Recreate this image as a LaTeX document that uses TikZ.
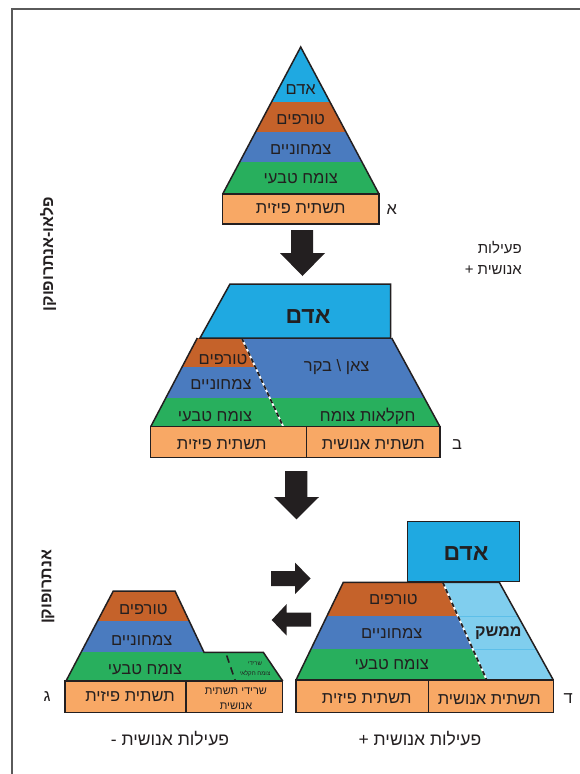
\documentclass[tikz,border=0pt]{standalone}
\usepackage{fontspec}
\newfontfamily\hebfont[Script=Hebrew]{Liberation Sans}
\TeXXeTstate=1
\newcommand\heb[1]{\beginR #1\endR}
\definecolor{cyanA}{HTML}{1FA9E1}
\definecolor{brownA}{HTML}{C5622A}
\definecolor{blueA}{HTML}{4A7BBF}
\definecolor{greenA}{HTML}{28AF5D}
\definecolor{orangeA}{HTML}{F8A865}
\definecolor{lightA}{HTML}{80CEEE}
\definecolor{lightLine}{HTML}{5DBFE9}
\definecolor{inkA}{HTML}{231F20}
\definecolor{frameA}{HTML}{5A5A5A}
\tikzset{
  outl/.style={draw=inkA,line width=1.5pt,line join=miter},
  base/.style={fill=orangeA,draw=inkA,line width=1.5pt},
  bigarrow/.style={fill=inkA},
  txt/.style={font=\hebfont\fontsize{16.5}{18}\selectfont,text=inkA,inner sep=0pt},
  boldtxt/.style={font=\hebfont\bfseries\fontsize{23}{25}\selectfont,text=inkA,inner sep=0pt},
  sidetxt/.style={font=\hebfont\bfseries\fontsize{16}{18}\selectfont,text=inkA,inner sep=0pt,rotate=90},
  divline/.style={draw=white,line width=1.8pt},
  divdash/.style={draw=inkA,line width=1.8pt,dash pattern=on 4.5pt off 3pt},
}
\begin{document}
\begin{tikzpicture}[x=1pt,y=-1pt]
\useasboundingbox (0,0) rectangle (580,774);
% frame
\draw[frameA,line width=1.3pt] (12,774) -- (12,9) -- (580,9);

% ===== A: top pyramid =====
\begin{scope}
\clip (300.7,47) -- (379,194) -- (222.7,194) -- cycle;
\fill[cyanA] (200,40) rectangle (400,101.7);
\fill[brownA] (200,101.7) rectangle (400,132);
\fill[blueA] (200,132) rectangle (400,162);
\fill[greenA] (200,162) rectangle (400,194);
\end{scope}
\draw[outl] (222.7,194) -- (300.7,47) -- (379,194);
\draw[base] (222.7,194) rectangle (379,224);
\node[txt] (a1) at (300.7,90) {\heb{אדם}};
\node[txt] (a2) at (300.7,120) {\heb{טורפים}};
\node[txt] (a3) at (300.7,149) {\heb{צמחוניים}};
\node[txt] (a4) at (300.7,179) {\heb{צומח טבעי}};
\node[txt] (a5) at (300.7,209) {\heb{תשתית פיזית}};
\node[txt] (la) at (391.7,210) {\heb{א}};

% arrow 1 down
\fill[bigarrow] (291,230) -- (313,230) -- (313,253) -- (325,253) -- (302.5,276) -- (280,253) -- (291,253) -- cycle;

\node[txt,font=\hebfont\fontsize{15}{17}\selectfont,anchor=east] (p1) at (522,248) {\heb{פעילות}};
\node[txt,font=\hebfont\fontsize{15}{17}\selectfont,anchor=east] (p2) at (522,270) {\heb{אנושית +}};

% ===== B: middle =====
\begin{scope}
\clip (197.3,338) -- (391.7,338) -- (440,426.7) -- (150.7,426.7) -- cycle;
\fill[blueA] (140,330) rectangle (450,398.3);
\fill[greenA] (140,398.3) rectangle (450,426.7);
\clip (197.3,338) -- (241.7,338) -- (283.3,426.7) -- (150.7,426.7) -- cycle;
\fill[brownA] (140,330) rectangle (450,367.3);
\end{scope}
\draw[outl] (150.7,426.7) -- (197.3,338);
\draw[outl] (391.7,338) -- (440,426.7);
\draw[divline] (241.7,338) -- (283.3,426.7);
\draw[divdash] (241.7,338) -- (283.3,426.7);
\draw[outl,fill=cyanA] (230,284) -- (390.7,284) -- (390.7,338) -- (200,338) -- cycle;
\draw[base] (150.7,426.7) rectangle (306.7,457.3);
\draw[base] (306.7,426.7) rectangle (440,457.3);
\node[boldtxt] (b1) at (308,316.7) {\heb{אדם}};
\node[txt] (b2) at (223,360) {\heb{טורפים}};
\node[txt] (b3) at (221,384.3) {\heb{צמחוניים}};
\node[txt] (b4) at (336.7,366.7) {\heb{צאן \textbackslash{} בקר}};
\node[txt] (b5) at (215,416.7) {\heb{צומח טבעי}};
\node[txt] (b6) at (367.7,416.7) {\heb{חקלאות צומח}};
\node[txt] (b7) at (221.7,444.3) {\heb{תשתית פיזית}};
\node[txt] (b8) at (373.3,444.3) {\heb{תשתית אנושית}};
\node[txt] (lb) at (457,444.3) {\heb{ב}};

% arrow 2 down
\fill[bigarrow] (285,471) -- (307.3,471) -- (307.3,497) -- (319,497) -- (296.5,519.3) -- (274,497) -- (285,497) -- cycle;
% right arrow
\fill[bigarrow] (271,571) -- (295,571) -- (295,562.7) -- (310.7,578.5) -- (295,594) -- (295,586) -- (271,586) -- cycle;
% left arrow
\fill[bigarrow] (311,612.7) -- (286.7,612.7) -- (286.7,604) -- (271.7,620) -- (286.7,635.7) -- (286.7,626.7) -- (311,626.7) -- cycle;

% side labels
\node[sidetxt] (s1) at (48,254) {\heb{פלאו-אנתרופוקן}};
\node[sidetxt] (s2) at (48,587) {\heb{אנתרופוקן}};

% ===== D: bottom right =====
\begin{scope}
\clip (343.3,582.3) -- (499.3,582.3) -- (553.3,680) -- (296,680) -- cycle;
\fill[lightA] (290,575) rectangle (560,680);
\draw[lightLine,line width=0.8pt] (290,616) -- (560,616);
\draw[lightLine,line width=0.8pt] (290,649.3) -- (560,649.3);
\clip (343.3,582.3) -- (442.7,582.3) -- (486.7,680) -- (296,680) -- cycle;
\fill[brownA] (290,575) rectangle (560,616);
\fill[blueA] (290,616) rectangle (560,649.3);
\fill[greenA] (290,649.3) rectangle (560,680);
\end{scope}
\draw[divline] (442.7,582.3) -- (486.7,680);
\draw[divdash] (442.7,582.3) -- (486.7,680);
\draw[outl] (296,680) -- (343.3,582.3) -- (499.3,582.3) -- (553.3,680);
\draw[outl,fill=cyanA] (407.3,521.7) rectangle (519.3,581.7);
\draw[base] (296,680) rectangle (428.3,712.7);
\draw[base] (428.3,680) rectangle (553.3,712.7);
\node[boldtxt] (d1) at (466,553.3) {\heb{אדם}};
\node[txt] (d2) at (393.3,600) {\heb{טורפים}};
\node[txt] (d3) at (391.7,633.3) {\heb{צמחוניים}};
\node[txt] (d4) at (391.7,665) {\heb{צומח טבעי}};
\node[txt,font=\hebfont\bfseries\fontsize{16}{18}\selectfont] (d5) at (498.3,633.3) {\heb{ממשק}};
\node[txt] (d6) at (366.7,698.3) {\heb{תשתית פיזית}};
\node[txt] (d7) at (489.3,699.3) {\heb{תשתית אנושית}};
\node[txt] (ld) at (568.3,698.3) {\heb{ד}};
\node[txt,font=\hebfont\fontsize{17.5}{19}\selectfont] (c2) at (420,739) {\heb{פעילות אנושית +}};

% ===== G: bottom left =====
\begin{scope}
\clip (113.3,591) -- (175,591) -- (204,652.3) -- (263.3,652.3) -- (282.7,681) -- (66,681) -- cycle;
\fill[brownA] (60,585) rectangle (290,620.7);
\fill[blueA] (60,620.7) rectangle (290,652.3);
\fill[greenA] (60,652.3) rectangle (290,681);
\end{scope}
\draw[outl] (66,681) -- (113.3,591) -- (175,591) -- (204,652.3) -- (263.3,652.3) -- (282.7,681);
\draw[draw=inkA,line width=1.6pt,dash pattern=on 7.5pt off 5pt] (226.7,655.5) -- (235,680);
\draw[base] (65,681) rectangle (186,712.7);
\draw[base] (186,681) rectangle (282.7,712.7);
\node[txt] (g1) at (143.3,610) {\heb{טורפים}};
\node[txt] (g2) at (141.7,640) {\heb{צמחוניים}};
\node[txt] (g3) at (145,669.3) {\heb{צומח טבעי}};
\node[txt,font=\hebfont\fontsize{6}{7}\selectfont] (g4) at (255,664) {\heb{שרידי}};
\node[txt,font=\hebfont\fontsize{6}{7}\selectfont] (g5) at (255,674) {\heb{צומח חקלאי}};
\node[txt] (g6) at (130,696.7) {\heb{תשתית פיזית}};
\node[txt,font=\hebfont\fontsize{11}{13}\selectfont] (g7) at (236,691.7) {\heb{שרידי תשתית}};
\node[txt,font=\hebfont\fontsize{11}{13}\selectfont] (g8) at (236,706) {\heb{אנושית}};
\node[txt] (lg) at (47,697) {\heb{ג}};
\node[txt,font=\hebfont\fontsize{17.5}{19}\selectfont] (c1) at (170,739) {\heb{פעילות אנושית -}};
\end{tikzpicture}
\end{document}
